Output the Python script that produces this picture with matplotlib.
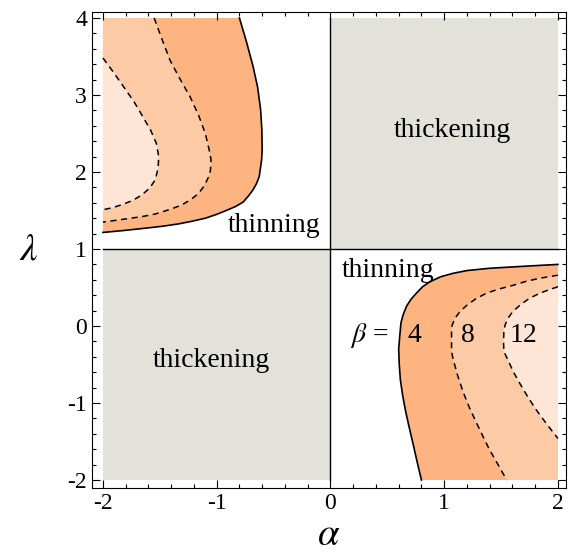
import numpy as np
import matplotlib
matplotlib.use("Agg")
import matplotlib.pyplot as plt
from matplotlib.ticker import MultipleLocator, FuncFormatter

plt.rcParams['font.family'] = ['Liberation Serif', 'DejaVu Serif']
plt.rcParams['mathtext.fontset'] = 'stix'
plt.rcParams['axes.unicode_minus'] = False

# Curvas (alpha, lambda)
# region superior izquierda: beta = 4, 8, 12
sup_b4_a = [-0.80, -0.74, -0.68, -0.64, -0.614, -0.603, -0.60, -0.605, -0.626, -0.65, -0.68, -0.72,
            -0.767, -0.83, -0.90, -1.00, -1.10, -1.22, -1.34, -1.48, -1.63, -1.82, -2.00]
sup_b4_l = [4.00, 3.70, 3.37, 3.10, 2.81, 2.55, 2.29, 2.16, 1.94, 1.85, 1.77, 1.69,
            1.61, 1.555, 1.51, 1.45, 1.40, 1.36, 1.325, 1.295, 1.27, 1.24, 1.215]
sup_b8_a = [-1.55, -1.48, -1.41, -1.32, -1.235, -1.16, -1.10, -1.065, -1.05, -1.055, -1.07, -1.11,
            -1.16, -1.23, -1.31, -1.42, -1.54, -1.66, -1.78, -1.90, -2.00]
sup_b8_l = [4.00, 3.72, 3.45, 3.20, 2.98, 2.74, 2.50, 2.28, 2.16, 2.02, 1.94, 1.82,
            1.72, 1.64, 1.57, 1.51, 1.455, 1.42, 1.395, 1.37, 1.35]
sup_b12_a = [-2.00, -1.91, -1.82, -1.73, -1.65, -1.58, -1.53, -1.51, -1.515, -1.54, -1.59, -1.66,
             -1.74, -1.835, -1.92, -2.00]
sup_b12_l = [3.48, 3.30, 3.11, 2.92, 2.72, 2.54, 2.37, 2.20, 2.05, 1.90, 1.79, 1.70,
             1.63, 1.575, 1.535, 1.51]

# region inferior derecha
inf_b4_a = [2.00, 1.75, 1.40, 1.20, 1.08, 0.97, 0.875, 0.81, 0.758, 0.71, 0.67, 0.64, 0.62,
            0.61, 0.60, 0.605, 0.615, 0.635, 0.66, 0.69, 0.725, 0.76, 0.80]
inf_b4_l = [0.80, 0.78, 0.75, 0.72, 0.685, 0.64, 0.575, 0.51, 0.43, 0.35, 0.26, 0.15, 0.04,
            -0.12, -0.30, -0.50, -0.70, -0.90, -1.10, -1.30, -1.52, -1.75, -2.00]
inf_b8_a = [2.00, 1.84, 1.72, 1.61, 1.48, 1.37, 1.28, 1.20, 1.14, 1.095, 1.07, 1.065, 1.065,
            1.065, 1.08, 1.12, 1.17, 1.225, 1.285, 1.34, 1.40, 1.47, 1.55]
inf_b8_l = [0.66, 0.62, 0.58, 0.53, 0.48, 0.425, 0.355, 0.27, 0.19, 0.10, 0.01, -0.07, -0.20,
            -0.33, -0.44, -0.65, -0.87, -1.07, -1.26, -1.43, -1.61, -1.79, -2.00]
inf_b12_a = [2.00, 1.92, 1.84, 1.75, 1.665, 1.60, 1.56, 1.535, 1.525, 1.522, 1.525, 1.56,
             1.61, 1.665, 1.735, 1.81, 1.90, 2.00]
inf_b12_l = [0.51, 0.47, 0.425, 0.36, 0.27, 0.18, 0.10, 0.01, -0.07, -0.20, -0.33, -0.44,
             -0.60, -0.745, -0.92, -1.09, -1.27, -1.46]

colores = ['#fdb480', '#fdcaa6', '#fee5d5']
gris = '#e2e2db'

fig = plt.figure(figsize=(5.71, 5.58), dpi=100)
ax = fig.add_axes([0.161, 0.1254, 0.830, 0.8531])

# zonas de engrosamiento
ax.fill_between([-2, 0], -2, 1, color=gris, lw=0)
ax.fill_between([0, 2], 1, 4, color=gris, lw=0)

# rellenos superiores (cerrando por el borde alpha=-2 y lambda=4)
sup = [(sup_b4_a, sup_b4_l), (sup_b8_a, sup_b8_l), (sup_b12_a, sup_b12_l)]
for (a, l), c in zip(sup, colores):
    xs = list(a) + [-2, -2]
    ys = list(l) + [4, 4]
    ax.fill(xs, ys, color=c, lw=0)

inf = [(inf_b4_a, inf_b4_l), (inf_b8_a, inf_b8_l), (inf_b12_a, inf_b12_l)]
for (a, l), c in zip(inf, colores):
    xs = list(a) + [2, 2]
    ys = list(l) + [-2, -2]
    ax.fill(xs, ys, color=c, lw=0)

# bordes
ax.plot(sup_b4_a, sup_b4_l, color='k', lw=1.2, solid_joinstyle='round')
ax.plot(inf_b4_a, inf_b4_l, color='k', lw=1.2, solid_joinstyle='round')
for a, l in [(sup_b8_a, sup_b8_l), (sup_b12_a, sup_b12_l), (inf_b8_a, inf_b8_l), (inf_b12_a, inf_b12_l)]:
    ax.plot(a, l, color='k', lw=1.1, ls=(0, (4, 3)))

ax.plot([-2, 2], [1, 1], color='k', lw=1.0)
ax.plot([0, 0], [-2, 4], color='k', lw=1.0)

# textos
fs = 20
ax.text(1.07, 2.545, 'thickening', fontsize=fs, ha='center', va='center')
ax.text(-1.05, -0.45, 'thickening', fontsize=fs, ha='center', va='center')
ax.text(-0.497, 1.30, 'thinning', fontsize=fs, ha='center', va='center')
ax.text(0.506, 0.72, 'thinning', fontsize=fs, ha='center', va='center')
ax.text(0.34, -0.12, r'$\beta$ =', fontsize=fs, ha='center', va='center')
ax.text(0.735, -0.12, '4', fontsize=fs, ha='center', va='center')
ax.text(1.21, -0.12, '8', fontsize=fs, ha='center', va='center')
ax.text(1.70, -0.12, '12', fontsize=fs, ha='center', va='center')

ax.set_xlim(-2.097, 2.07)
ax.set_ylim(-2.104, 4.078)

ax.xaxis.set_major_locator(MultipleLocator(1))
ax.xaxis.set_minor_locator(MultipleLocator(0.2))
ax.yaxis.set_major_locator(MultipleLocator(1))
ax.yaxis.set_minor_locator(MultipleLocator(0.2))
fmt = FuncFormatter(lambda v, p: '%d' % round(v))
ax.xaxis.set_major_formatter(fmt)
ax.yaxis.set_major_formatter(fmt)
ax.tick_params(which='both', direction='in', top=True, right=True, labelsize=17, width=0.8)
ax.tick_params(which='major', length=6)
ax.tick_params(which='minor', length=3)
for s in ax.spines.values():
    s.set_linewidth(0.8)

ax.set_xlabel(r'$\alpha$', fontsize=28, labelpad=2)
ax.set_ylabel(r'$\lambda$', fontsize=28, rotation=0, labelpad=28, va='center')

plt.savefig('out.png', dpi=100)
